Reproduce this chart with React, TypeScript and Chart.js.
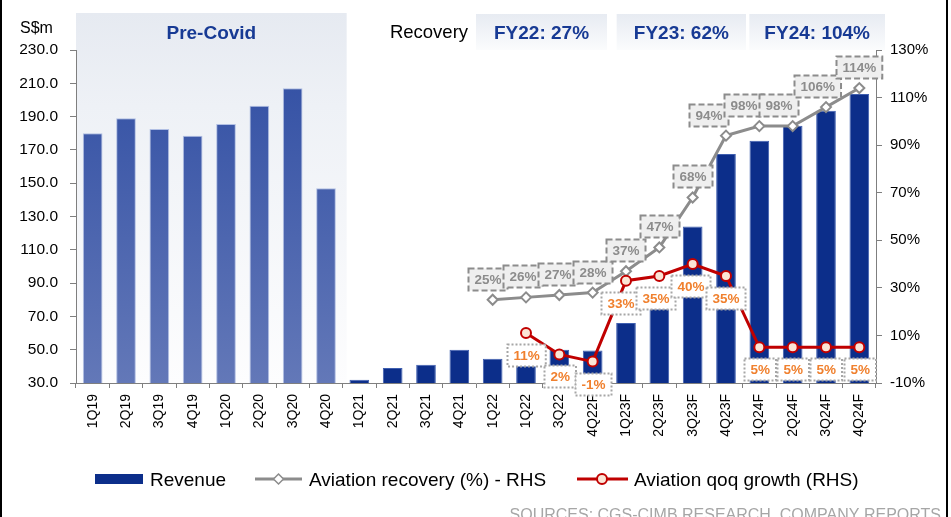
import React, { useEffect, useRef } from 'react';
import { Chart, registerables } from 'chart.js';

Chart.register(...registerables);

// ---------- data ----------
const categories = [
  '1Q19', '2Q19', '3Q19', '4Q19', '1Q20', '2Q20', '3Q20', '4Q20',
  '1Q21', '2Q21', '3Q21', '4Q21', '1Q22', '1Q22', '3Q22', '4Q22F',
  '1Q23F', '2Q23F', '3Q23F', '4Q23F', '1Q24F', '2Q24F', '3Q24F', '4Q24F',
];
const revenue = [
  180, 189, 182.5, 178.5, 185.5, 196.5, 207, 147,
  32, 39, 41, 50, 44.5, 48, 50, 49.5,
  66, 84, 124, 167.5, 175.5, 184.5, 193.5, 203.5,
];
const aviationRecovery = [
  null, null, null, null, null, null, null, null,
  null, null, null, null, 25, 26, 27, 28,
  37, 47, 68, 94, 98, 98, 106, 114,
];
const aviationQoqGrowth = [
  null, null, null, null, null, null, null, null,
  null, null, null, null, null, 11, 2, -1,
  33, 35, 40, 35, 5, 5, 5, 5,
];
const leftAxis = { min: 30, max: 230, step: 20 };
const rightAxis = { min: -10, max: 130, step: 20 };
const preCovidCount = categories.indexOf('1Q21');

const seriesNames = ['Revenue', 'Aviation recovery (%) - RHS', 'Aviation qoq growth (RHS)'];
const headerBoxes = [
  { text: 'Pre-Covid', from: 0, to: 8.12, top: 13, tall: true },
  { text: 'FY22: 27%', from: 12, to: 15.93, top: 14, tall: false },
  { text: 'FY23: 62%', from: 16.22, to: 20.1, top: 14, tall: false },
  { text: 'FY24: 104%', from: 20.2, to: 24.27, top: 14, tall: false },
];
const recoveryTitle = { text: 'Recovery', at: 10.59 };
const sourceText = 'SOURCES: CGS-CIMB RESEARCH, COMPANY REPORTS';

// ---------- styles ----------
const FONT = '"Liberation Sans", Arial, Helvetica, sans-serif';
const NAVY = '#0C2E8A';
const AXIS = '#7F7F7F';
const GREY_LINE = '#8C8C8C';
const RED = '#C00000';
const ORANGE = '#F0802E';
const TITLE_BLUE = '#173A94';
const LABEL_H = 22;

function catPos(chart: any, f: number) {
  const x = chart.scales.x;
  const cw = (x.right - x.left) / categories.length;
  return x.left + f * cw;
}

const headerPlugin = {
  id: 'headerPlugin',
  beforeDraw(chart: any) {
    const ctx = chart.ctx;
    const ca = chart.chartArea;
    ctx.save();
    for (const b of headerBoxes) {
      const l = catPos(chart, b.from);
      const r = catPos(chart, b.to);
      const bottom = b.tall ? ca.bottom : 50;
      const g = ctx.createLinearGradient(0, b.top, 0, bottom);
      if (b.tall) {
        g.addColorStop(0, '#E6EAF1');
        g.addColorStop(0.25, '#EEF1F6');
        g.addColorStop(1, '#FDFDFE');
      } else {
        g.addColorStop(0, '#E7EBF2');
        g.addColorStop(1, '#FBFCFD');
      }
      ctx.fillStyle = g;
      ctx.fillRect(l, b.top, r - l, bottom - b.top);
      ctx.fillStyle = TITLE_BLUE;
      ctx.font = `bold 19px ${FONT}`;
      ctx.textAlign = 'center';
      ctx.textBaseline = 'alphabetic';
      ctx.fillText(b.text, (l + r) / 2, 38.5);
    }
    ctx.fillStyle = '#000';
    ctx.font = `18.5px ${FONT}`;
    ctx.textAlign = 'center';
    ctx.fillText(recoveryTitle.text, catPos(chart, recoveryTitle.at), 37.8);
    ctx.font = `16px ${FONT}`;
    ctx.textAlign = 'left';
    ctx.fillText('S$m', 20, 32.5);
    ctx.restore();
  },
};

function drawBoxLabel(ctx: any, text: string, cx: number, cy: number, w: number, kind: 'grey' | 'red') {
  ctx.font = `bold 13.5px ${FONT}`;
  const h = LABEL_H;
  const x0 = Math.round(cx - w / 2) + 0.5;
  const y0 = Math.round(cy - h / 2) + 0.5;
  ctx.fillStyle = kind === 'grey' ? '#EFEFEF' : '#FFFFFF';
  ctx.fillRect(x0, y0, w, h);
  ctx.lineWidth = 2;
  ctx.strokeStyle = kind === 'grey' ? '#8C8C8C' : '#A6A6A6';
  ctx.setLineDash(kind === 'grey' ? [6, 3] : [2, 2]);
  ctx.strokeRect(x0, y0, w, h);
  ctx.setLineDash([]);
  ctx.fillStyle = kind === 'grey' ? '#8C8C8C' : ORANGE;
  ctx.textAlign = 'center';
  ctx.textBaseline = 'middle';
  ctx.fillText(text, x0 + w / 2, y0 + h / 2 + 1);
}

// place labels, pushing colliding labels to the left (right-most label stays put)
function layoutLabels(ctx: any, items: { text: string; cx: number; cy: number }[]) {
  ctx.font = `bold 13.5px ${FONT}`;
  const placed = items.map((it) => ({ ...it, w: ctx.measureText(it.text).width + 12 }));
  for (let i = placed.length - 2; i >= 0; i--) {
    const a = placed[i];
    const b = placed[i + 1];
    const vOverlap = LABEL_H - Math.abs(a.cy - b.cy);
    if (vOverlap <= 2) continue;
    const minDist = (a.w + b.w) / 2 - 4;
    if (b.cx - a.cx < minDist) a.cx = b.cx - minDist;
  }
  return placed;
}

const labelPlugin = {
  id: 'labelPlugin',
  afterDraw(chart: any) {
    const ctx = chart.ctx;
    ctx.save();
    const recMeta = chart.getDatasetMeta(1);
    const recItems: { text: string; cx: number; cy: number }[] = [];
    aviationRecovery.forEach((v, i) => {
      if (v == null) return;
      const p = recMeta.data[i];
      recItems.push({ text: `${v}%`, cx: p.x, cy: p.y - 21 });
    });
    layoutLabels(ctx, recItems).forEach((it) => drawBoxLabel(ctx, it.text, it.cx, it.cy, it.w, 'grey'));

    const qMeta = chart.getDatasetMeta(2);
    const qItems: { text: string; cx: number; cy: number }[] = [];
    aviationQoqGrowth.forEach((v, i) => {
      if (v == null) return;
      const p = qMeta.data[i];
      qItems.push({ text: `${v}%`, cx: p.x, cy: p.y + 22 });
    });
    layoutLabels(ctx, qItems).forEach((it) => drawBoxLabel(ctx, it.text, it.cx, it.cy, it.w, 'red'));
    ctx.restore();
  },
};

const legendPlugin = {
  id: 'customLegend',
  afterDraw(chart: any) {
    const ctx = chart.ctx;
    ctx.save();
    const cy = 479;
    ctx.font = `19px ${FONT}`;
    ctx.textAlign = 'left';
    ctx.textBaseline = 'alphabetic';
    // Revenue
    ctx.fillStyle = NAVY;
    ctx.fillRect(95, cy - 5, 48, 10);
    ctx.fillStyle = '#000';
    ctx.fillText(seriesNames[0], 150, 486);
    // Recovery
    ctx.strokeStyle = GREY_LINE;
    ctx.lineWidth = 3;
    ctx.beginPath();
    ctx.moveTo(255, cy);
    ctx.lineTo(302, cy);
    ctx.stroke();
    ctx.fillStyle = '#fff';
    ctx.lineWidth = 1.5;
    ctx.beginPath();
    ctx.moveTo(278.5, cy - 5);
    ctx.lineTo(283.5, cy);
    ctx.lineTo(278.5, cy + 5);
    ctx.lineTo(273.5, cy);
    ctx.closePath();
    ctx.fill();
    ctx.stroke();
    ctx.fillStyle = '#000';
    ctx.fillText(seriesNames[1], 309, 486);
    // Qoq growth
    ctx.strokeStyle = RED;
    ctx.lineWidth = 3;
    ctx.beginPath();
    ctx.moveTo(577, cy);
    ctx.lineTo(628, cy);
    ctx.stroke();
    ctx.fillStyle = '#FBE5D6';
    ctx.lineWidth = 2;
    ctx.beginPath();
    ctx.arc(602, cy, 5, 0, Math.PI * 2);
    ctx.fill();
    ctx.stroke();
    ctx.fillStyle = '#000';
    ctx.fillText(seriesNames[2], 634, 486);
    // source
    ctx.fillStyle = '#A6A6A6';
    ctx.font = `16px ${FONT}`;
    ctx.textAlign = 'right';
    ctx.fillText(sourceText, 941, 520);
    // frame lines
    ctx.fillStyle = '#000';
    ctx.fillRect(0, 0, 2, 517);
    ctx.fillRect(946, 0, 2, 517);
    ctx.restore();
  },
};

export default function App() {
  const ref = useRef<HTMLCanvasElement>(null);

  useEffect(() => {
    const canvas = ref.current!;
    const chart = new Chart(canvas, {
      type: 'bar',
      data: {
        labels: categories,
        datasets: [
          {
            type: 'bar',
            label: seriesNames[0],
            data: revenue,
            yAxisID: 'y',
            order: 3,
            barPercentage: 0.59,
            categoryPercentage: 1,
            borderWidth: { top: 1, left: 1, right: 1, bottom: 0 },
            borderSkipped: 'bottom',
            borderColor: (c: any) => (c.dataIndex < preCovidCount ? 'rgba(170,185,225,0.9)' : '#3F5FB0'),
            backgroundColor: (c: any) => {
              if (c.dataIndex >= preCovidCount) return NAVY;
              const area = c.chart.chartArea;
              if (!area) return '#4A64AE';
              const g = c.chart.ctx.createLinearGradient(0, 80, 0, area.bottom);
              g.addColorStop(0, '#3552A5');
              g.addColorStop(1, '#6378B8');
              return g;
            },
          } as any,
          {
            type: 'line',
            label: seriesNames[1],
            data: aviationRecovery,
            yAxisID: 'y1',
            order: 2,
            borderColor: GREY_LINE,
            borderWidth: 3,
            pointStyle: 'rectRot',
            pointRadius: 5,
            pointBorderWidth: 2,
            pointBorderColor: GREY_LINE,
            pointBackgroundColor: '#FFFFFF',
            spanGaps: false,
            tension: 0,
          } as any,
          {
            type: 'line',
            label: seriesNames[2],
            data: aviationQoqGrowth,
            yAxisID: 'y1',
            order: 1,
            borderColor: RED,
            borderWidth: 3,
            pointStyle: 'circle',
            pointRadius: 5,
            pointBorderWidth: 2,
            pointBorderColor: RED,
            pointBackgroundColor: '#FBE5D6',
            tension: 0,
          } as any,
        ],
      },
      options: {
        animation: false,
        responsive: false,
        devicePixelRatio: 1,
        layout: { padding: { top: 50, left: 0, right: 0, bottom: 0 } },
        plugins: {
          legend: { display: false },
          tooltip: { enabled: false },
          title: { display: false },
        },
        scales: {
          x: {
            grid: { display: true, drawOnChartArea: false, drawTicks: true, tickLength: 5, color: AXIS, offset: true },
            border: { display: true, color: AXIS, width: 1 },
            ticks: {
              autoSkip: false,
              maxRotation: 90,
              minRotation: 90,
              padding: 6,
              color: '#000',
              font: { family: FONT, size: 14 },
            },
            afterFit: (s: any) => {
              s.height = 134;
            },
          },
          y: {
            position: 'left',
            min: leftAxis.min,
            max: leftAxis.max,
            grid: { display: true, drawOnChartArea: false, tickLength: 6, color: AXIS },
            border: { display: true, color: AXIS, width: 1 },
            ticks: {
              stepSize: leftAxis.step,
              padding: 12,
              color: '#000',
              font: { family: FONT, size: 15.5 },
              callback: (v: any) => Number(v).toFixed(1),
            },
            afterFit: (s: any) => {
              s.width = 76;
            },
          },
          y1: {
            position: 'right',
            min: rightAxis.min,
            max: rightAxis.max,
            grid: { display: true, drawOnChartArea: false, tickLength: 6, color: AXIS },
            border: { display: true, color: AXIS, width: 1 },
            ticks: {
              stepSize: rightAxis.step,
              padding: 8,
              color: '#000',
              font: { family: FONT, size: 15 },
              callback: (v: any) => `${v}%`,
            },
            afterFit: (s: any) => {
              s.width = 75;
            },
          },
        },
      } as any,
      plugins: [headerPlugin, labelPlugin, legendPlugin],
    });
    return () => chart.destroy();
  }, []);

  return (
    <div style={{ position: 'fixed', left: 0, top: 0, width: 951, height: 517, background: '#fff' }}>
      <canvas ref={ref} width={951} height={517} style={{ display: 'block', width: 951, height: 517 }} />
    </div>
  );
}
